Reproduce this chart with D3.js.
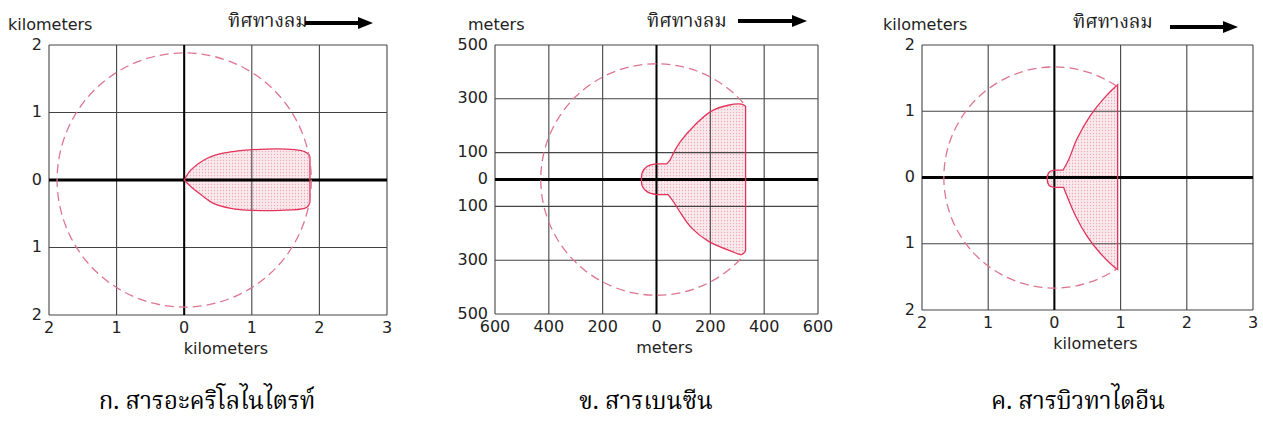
<!DOCTYPE html>
<html>
<head>
<meta charset="utf-8">
<script src="https://cdn.jsdelivr.net/npm/d3@7"></script>
<style>
  body { margin: 0; background: #fff; }
  text { font-family: "DejaVu Sans", sans-serif; fill: #222; }
  .thai { font-family: "Noto Serif Thai", "Noto Sans Thai Looped", "Norasi", "Laksaman", "Garuda", "Noto Sans Thai", "DejaVu Sans", sans-serif; }
</style>
</head>
<body>
<script>
// ---- data ----
var captions = ["ก. สารอะคริโลไนไตรท์", "ข. สารเบนซีน", "ค. สารบิวทาไดอีน"];
var unitNames = ["kilometers", "meters", "kilometers"];
var windText = "ทิศทางลม";

var xTicksA = [-2, -1, 0, 1, 2, 3], yTicksA = [-2, -1, 0, 1, 2];
var xTicksB = [-600, -400, -200, 0, 200, 400, 600], yTicksB = [-500, -300, -100, 0, 100, 300, 500];
var xTicksC = [-2, -1, 0, 1, 2, 3], yTicksC = [-2, -1, 0, 1, 2];

// dashed circle radius (same unit as axes)
var radiusA = 1.88, radiusB = 430, radiusC = 1.67;

// plume outlines, each piece is [type, points]
var plumeA = [
  ["curve", [[0, 0], [0.1, 0.15], [0.3, 0.30], [0.54, 0.39], [0.79, 0.43], [1.01, 0.45], [1.63, 0.45], [1.78, 0.42], [1.85, 0.37], [1.86, 0.33]]],
  ["line", [[1.86, 0.33], [1.86, -0.32]]],
  ["curve", [[1.86, -0.32], [1.84, -0.38], [1.78, -0.42], [1.43, -0.45], [1.01, -0.45], [0.69, -0.42], [0.44, -0.35], [0.25, -0.22], [0.1, -0.1], [0, 0]]]
];
var plumeB = [
  ["line", [[0, 58], [37, 58]]],
  ["curve", [[37, 58], [50, 72], [64, 100], [88, 140], [140, 200], [204, 254], [266, 276], [316, 280], [331, 272]]],
  ["line", [[331, 272], [331, -265]]],
  ["curve", [[331, -265], [316, -279], [279, -267], [192, -229], [130, -180], [93, -130], [62, -81], [43, -56]]],
  ["line", [[43, -56], [0, -56]]],
  ["curve", [[0, -56], [-34, -46], [-53, -24], [-56, 0], [-53, 26], [-34, 49], [0, 58]]]
];
var plumeC = [
  ["line", [[0, 0.11], [0.13, 0.11]]],
  ["curve", [[0.13, 0.11], [0.22, 0.28], [0.34, 0.58], [0.54, 0.93], [0.79, 1.24], [0.955, 1.40]]],
  ["line", [[0.955, 1.40], [0.955, -1.39]]],
  ["curve", [[0.955, -1.39], [0.89, -1.34], [0.69, -1.14], [0.49, -0.88], [0.32, -0.58], [0.19, -0.28], [0.14, -0.15]]],
  ["line", [[0.14, -0.15], [0, -0.15]]],
  ["curve", [[0, -0.15], [-0.08, -0.12], [-0.11, -0.02], [-0.08, 0.08], [0, 0.11]]]
];

// ---- layout ----
var boxes = [
  { x0: 49, x1: 387, y0: 45, y1: 315, unitX: 8, windX: 228, windY: 22, arrow: [305, 373, 23], capX: 207 },
  { x0: 495, x1: 818, y0: 45, y1: 314, unitX: 468, windX: 647, windY: 22, arrow: [738, 807, 21], capX: 646 },
  { x0: 922, x1: 1253, y0: 45, y1: 310, unitX: 883, windX: 1073, windY: 23, arrow: [1170, 1238, 27], capX: 1078 }
];

var panels = [
  { xt: xTicksA, yt: yTicksA, r: radiusA, plume: plumeA, full: true },
  { xt: xTicksB, yt: yTicksB, r: radiusB, plume: plumeB, full: false },
  { xt: xTicksC, yt: yTicksC, r: radiusC, plume: plumeC, full: false }
];

var svg = d3.select("body").append("svg")
  .attr("width", 1263)
  .attr("height", 423);

var defs = svg.append("defs");
var pat = defs.append("pattern")
  .attr("id", "dots")
  .attr("width", 3).attr("height", 3)
  .attr("patternUnits", "userSpaceOnUse");
pat.append("rect").attr("width", 3).attr("height", 3).attr("fill", "#fbe9ed");
pat.append("circle").attr("cx", 1.5).attr("cy", 1.5).attr("r", 0.65).attr("fill", "#e9aab8");

panels.forEach(function (p, i) {
  var b = boxes[i];
  var x = d3.scaleLinear().domain(d3.extent(p.xt)).range([b.x0, b.x1]);
  var y = d3.scaleLinear().domain(d3.extent(p.yt)).range([b.y1, b.y0]);
  var g = svg.append("g");

  // plume path built from its pieces
  var curveLine = d3.line().x(function (d) { return x(d[0]); }).y(function (d) { return y(d[1]); })
    .curve(d3.curveCatmullRom.alpha(0.5));
  var straight = d3.line().x(function (d) { return x(d[0]); }).y(function (d) { return y(d[1]); });
  var dstr = "";
  p.plume.forEach(function (seg, k) {
    var s = seg[0] == "curve" ? curveLine(seg[1]) : straight(seg[1]);
    if (k > 0) s = "L" + s.slice(1);
    dstr += s;
  });
  dstr += "Z";

  g.append("path")
    .attr("d", dstr)
    .attr("fill", "url(#dots)")
    .attr("stroke", "none");

  // grid
  g.selectAll(".vg").data(p.xt).enter().append("line")
    .attr("x1", function (d) { return x(d); }).attr("x2", function (d) { return x(d); })
    .attr("y1", b.y0).attr("y2", b.y1)
    .attr("stroke", "#444").attr("stroke-width", 1.1);
  g.selectAll(".hg").data(p.yt).enter().append("line")
    .attr("y1", function (d) { return y(d); }).attr("y2", function (d) { return y(d); })
    .attr("x1", b.x0).attr("x2", b.x1)
    .attr("stroke", "#444").attr("stroke-width", 1.1);

  // zero axes
  g.append("line").attr("x1", b.x0).attr("x2", b.x1).attr("y1", y(0)).attr("y2", y(0))
    .attr("stroke", "#000").attr("stroke-width", 3.2);
  g.append("line").attr("x1", x(0)).attr("x2", x(0)).attr("y1", b.y0).attr("y2", b.y1)
    .attr("stroke", "#000").attr("stroke-width", 2);

  // plume outline
  g.append("path")
    .attr("d", dstr)
    .attr("fill", "none")
    .attr("stroke", "#e2335a")
    .attr("stroke-width", 1.3);

  // dashed circle
  var cx = x(0), cy = y(0), rp = x(p.r) - x(0);
  var ctx = d3.path();
  if (p.full) {
    ctx.arc(cx, cy, rp, 0, 2 * Math.PI);
  } else {
    var pts = [];
    p.plume.forEach(function (seg) { pts = pts.concat(seg[1]); });
    var top = pts.reduce(function (a, c) { return c[1] > a[1] ? c : a; });
    var bot = pts.reduce(function (a, c) { return c[1] < a[1] ? c : a; });
    var a0 = Math.atan2(y(top[1]) - cy, x(top[0]) - cx);
    var a1 = Math.atan2(y(bot[1]) - cy, x(bot[0]) - cx);
    ctx.arc(cx, cy, rp, a0, a1, true);
  }
  g.append("path")
    .attr("d", ctx.toString())
    .attr("fill", "none")
    .attr("stroke", "#de7590")
    .attr("stroke-width", 1.3)
    .attr("stroke-dasharray", "9,5");

  // tick labels
  g.selectAll(".xl").data(p.xt).enter().append("text")
    .attr("x", function (d) { return x(d); })
    .attr("y", b.y1 + 13)
    .attr("text-anchor", "middle")
    .attr("dominant-baseline", "middle")
    .attr("font-size", 16)
    .text(function (d) { return Math.abs(d); });
  g.selectAll(".yl").data(p.yt).enter().append("text")
    .attr("x", b.x0 - 7)
    .attr("y", function (d) { return y(d); })
    .attr("text-anchor", "end")
    .attr("dominant-baseline", "middle")
    .attr("font-size", 16)
    .text(function (d) { return Math.abs(d); });

  // axis names
  g.append("text")
    .attr("x", b.unitX).attr("y", 25)
    .attr("dominant-baseline", "middle")
    .attr("font-size", 16)
    .text(unitNames[i]);
  g.append("text")
    .attr("x", (b.x0 + b.x1) / 2 + 8).attr("y", b.y1 + 34)
    .attr("text-anchor", "middle")
    .attr("dominant-baseline", "middle")
    .attr("font-size", 16)
    .text(unitNames[i]);

  // wind direction
  g.append("text")
    .attr("class", "thai")
    .attr("x", b.windX).attr("y", b.windY)
    .attr("dominant-baseline", "middle")
    .attr("font-size", 19)
    .text(windText);
  var ar = b.arrow;
  g.append("line")
    .attr("x1", ar[0]).attr("x2", ar[1] - 14)
    .attr("y1", ar[2]).attr("y2", ar[2])
    .attr("stroke", "#000").attr("stroke-width", 4);
  g.append("path")
    .attr("d", "M" + (ar[1] - 15) + "," + (ar[2] - 6) + "L" + ar[1] + "," + ar[2] + "L" + (ar[1] - 15) + "," + (ar[2] + 6) + "Z")
    .attr("fill", "#000");

  // caption
  g.append("text")
    .attr("class", "thai")
    .attr("x", b.capX).attr("y", 409)
    .attr("text-anchor", "middle")
    .attr("font-size", 24)
    .style("fill", "#000")
    .text(captions[i]);
});
</script>
</body>
</html>
